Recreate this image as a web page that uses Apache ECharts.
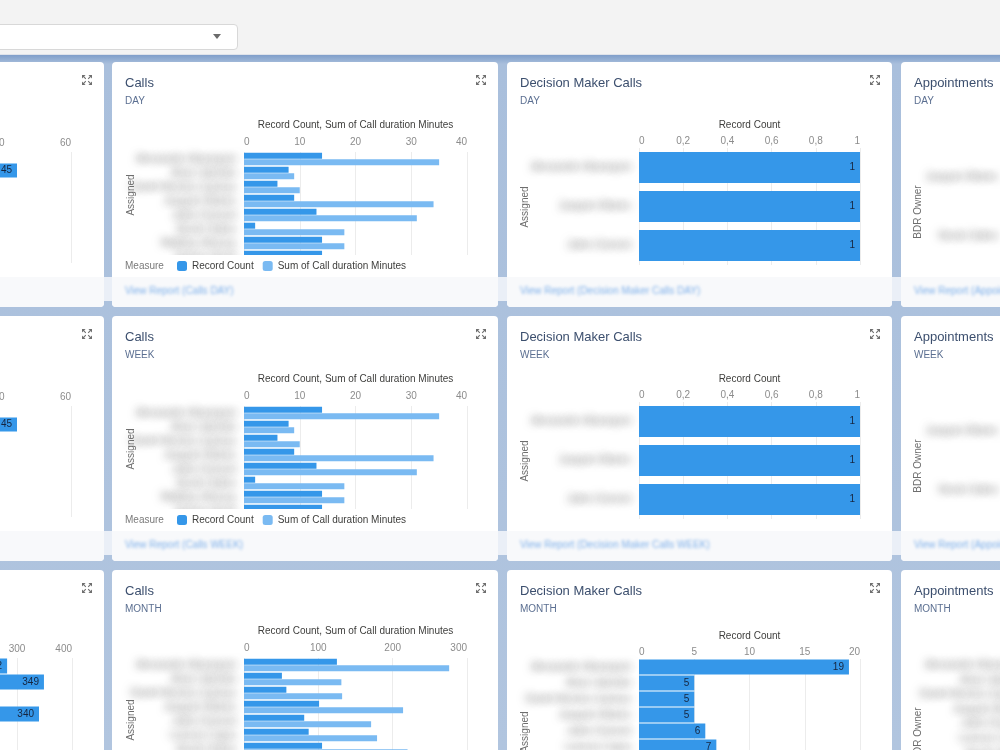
<!DOCTYPE html>
<html>
<head>
<meta charset="utf-8">
<script src="https://cdn.jsdelivr.net/npm/echarts@6/dist/echarts.min.js"></script>
<style>
  html, body { margin: 0; padding: 0; width: 1000px; height: 750px; overflow: hidden; }
  body { font-family: 'Liberation Sans', Arial, sans-serif; }
  #page {
    position: relative; width: 1000px; height: 750px; overflow: hidden;
    background: linear-gradient(#7b9bc8 54px, #a9bfdc 64px, #b1c5df 750px);
  }
  #topbar { position: absolute; left: 0; top: 0; width: 1000px; height: 54px; background: #f3f3f3; border-bottom: 1px solid #dfe3ea; }
  #select { position: absolute; left: -10px; top: 24px; width: 246px; height: 24px; background: #fff; border: 1px solid #d8d8d8; border-radius: 4px; }
  #caret { position: absolute; left: 213px; top: 34px; width: 0; height: 0; border-left: 4.5px solid transparent; border-right: 4.5px solid transparent; border-top: 5px solid #6b6b6b; }
  .strip { position: absolute; left: 0; width: 1000px; height: 24px; background: rgba(244, 247, 251, 0.85); }
  .card { position: absolute; height: 245px; background: #fff; border-radius: 4px; overflow: hidden; }
  .card.tall { height: 300px; }
  .foot { position: absolute; left: 0; top: 215px; width: 100%; height: 30px; background: #f8f9fb; }
  .link { position: absolute; left: 13px; top: 8px; font-size: 10px; color: #7eb0ea; filter: blur(1.8px); white-space: nowrap; }
  .chart { position: absolute; left: 0; top: 0; }
  .title { position: absolute; left: 13px; top: 13px; font-size: 13px; color: #3c4f6e; white-space: nowrap; }
  .sub { position: absolute; left: 13px; top: 33px; font-size: 10px; color: #5b6f91; }
  .expand { position: absolute; right: 12px; top: 13px; width: 10px; height: 10px; }
</style>
</head>
<body>
<div id="page">
  <div id="topbar"><div id="select"></div><div id="caret"></div></div>
</div>
<script>
// ---- data ----
const callsDayNames = ['Alessandro Marangoni', 'Mose Valentini', 'Daniel Moreira Cardoso', 'Joaquim Ribeiro', 'Julien Dumont', 'Nicole Dalton', 'Matthieu Moreau', 'Stefano Monti'];
const callsDayCount = [14, 8, 6, 9, 13, 2, 14, 14];
const callsDayMinutes = [35, 9, 10, 34, 31, 18, 18, 12];
const callsWeekCount = [14, 8, 6, 9, 13, 2, 14, 14];
const callsWeekMinutes = [35, 9, 10, 34, 31, 18, 18, 12];
const callsMonthNames = ['Alessandro Marangoni', 'Mose Valentini', 'Daniel Moreira Cardoso', 'Joaquim Ribeiro', 'Julien Dumont', 'Lorenzo Capra', 'Nicole Dalton'];
const callsMonthCount = [125, 51, 57, 101, 81, 87, 105];
const callsMonthMinutes = [276, 131, 132, 214, 171, 179, 220];

const dmDayNames = ['Alessandro Marangoni', 'Joaquim Ribeiro', 'Julien Dumont'];
const dmDayCount = [1, 1, 1];
const dmWeekCount = [1, 1, 1];
const dmMonthNames = ['Alessandro Marangoni', 'Mose Valentini', 'Daniel Moreira Cardoso', 'Joaquim Ribeiro', 'Julien Dumont', 'Lorenzo Capra'];
const dmMonthCount = [19, 5, 5, 5, 6, 7];

const apptDayNames = ['Joaquim Ribeiro', 'Nicole Dalton'];
const apptDayCount = [1, 1];
const apptWeekCount = [1, 1];
const apptMonthNames = ['Alessandro Marangoni', 'Mose Valentini', 'Daniel Moreira Cardoso', 'Joaquim Ribeiro', 'Julien Dumont', 'Lorenzo Capra', 'Nicole Dalton', 'Stefano Monti'];
const apptMonthCount = [6, 3, 4, 5, 2, 3, 4, 2];

const talkDayNames = ['Alessandro Marangoni', 'Joaquim Ribeiro', 'Julien Dumont'];
const talkDayMinutes = [45, 31, 24];
const talkWeekMinutes = [45, 31, 24];
const talkMonthNames = ['Alessandro Marangoni', 'Mose Valentini', 'Daniel Moreira Cardoso', 'Joaquim Ribeiro', 'Julien Dumont', 'Lorenzo Capra', 'Nicole Dalton'];
const talkMonthMinutes = [282, 349, 250, 340, 210, 190, 160];

const DARK = '#3597e9';
const LIGHT = '#7abaf2';
const FONT = "'Liberation Sans', Arial, sans-serif";

const expandSvg = '<svg class="expand" viewBox="0 0 10 10"><g fill="#6f6f6f" stroke="#6f6f6f" stroke-width="1.1">' +
  '<path d="M0 0h3.6L0 3.6z M10 0v3.6L6.4 0z M0 10v-3.6L3.6 10z M10 10h-3.6L10 6.4z" stroke="none"/>' +
  '<path d="M1.2 1.2l2.6 2.6 M8.8 1.2l-2.6 2.6 M1.2 8.8l2.6-2.6 M8.8 8.8l-2.6-2.6" fill="none"/></g></svg>';

function buildOption(p) {
  const graphic = [{
    type: 'text', x: p.yNameAt[0], y: p.yNameAt[1], rotation: Math.PI / 2, z: 110,
    style: { text: p.yName, fill: '#6e6e6e', font: '10px ' + FONT, align: 'center', verticalAlign: 'middle' }
  }];
  if (p.legend) {
    graphic.push({ type: 'rect', z: 100, shape: { x: 0, y: p.clipY, width: 400, height: 215 - p.clipY }, style: { fill: '#fff' } });
    graphic.push({ type: 'text', x: 13, y: 204, z: 110, style: { text: 'Measure', fill: '#7a7a7a', font: '10px ' + FONT, verticalAlign: 'middle' } });
  }
  return {
    animation: false,
    textStyle: { fontFamily: FONT },
    grid: { left: p.left, top: p.top, width: p.width, height: p.names.length * p.rowH, containLabel: false, outerBoundsMode: 'none' },
    xAxis: {
      type: 'value', position: 'top', min: 0, max: p.max, interval: p.interval,
      name: p.axisName, nameLocation: 'middle', nameGap: p.nameGap,
      nameTextStyle: { fontSize: 10, color: '#3e3e3c', fontFamily: FONT },
      axisLabel: { fontSize: 10, color: '#8c8c8c', margin: p.labelMargin, fontFamily: FONT, formatter: p.fmt, alignMinLabel: 'left', alignMaxLabel: 'right' },
      axisLine: { show: false }, axisTick: { show: false },
      splitLine: { lineStyle: { color: '#ececec' } }
    },
    yAxis: {
      type: 'category', data: p.names, inverse: true,
      axisLine: { show: false }, axisTick: { show: false }, splitLine: { show: false },
      axisLabel: {
        margin: 1008, fontSize: 10, fontFamily: FONT, color: '#9a9a9a',
        textShadowColor: 'rgba(95,95,95,0.9)', textShadowBlur: 8, textShadowOffsetX: 1000
      }
    },
    legend: p.legend ? {
      left: 60, top: 194, itemWidth: 10, itemHeight: 10, itemGap: 9, icon: 'roundRect', z: 110,
      textStyle: { fontSize: 10, color: '#3e3e3c', fontFamily: FONT }
    } : { show: false },
    series: p.series.map(s => ({
      type: 'bar', name: s.name, data: s.data, barWidth: p.barWidth, barGap: p.barGap || '10%',
      itemStyle: { color: s.color },
      label: p.labels ? { show: true, position: 'insideRight', distance: 5, color: '#16253f', fontSize: 10, fontFamily: FONT } : { show: false }
    })),
    graphic: graphic
  };
}

const page = document.getElementById('page');
const rowTops = [62, 316, 570];
const colLefts = [-282, 112, 507, 901];
const periods = ['DAY', 'WEEK', 'MONTH'];

rowTops.forEach(t => {
  const s = document.createElement('div');
  s.className = 'strip';
  s.style.top = (t + 215) + 'px';
  page.appendChild(s);
});

function addCard(col, row, title, option) {
  const w = col === 2 ? 385 : 386;
  const h = row === 2 ? 300 : 245;
  const card = document.createElement('div');
  card.className = 'card' + (row === 2 ? ' tall' : '');
  card.style.left = colLefts[col] + 'px';
  card.style.top = rowTops[row] + 'px';
  card.style.width = w + 'px';
  card.innerHTML =
    (row === 2 ? '' : '<div class="foot"><span class="link">View Report (' + title + ' ' + periods[row] + ')</span></div>') +
    '<div class="chart" style="width:' + w + 'px;height:' + h + 'px"></div>' +
    '<div class="title">' + title + '</div><div class="sub">' + periods[row] + '</div>' + expandSvg;
  page.appendChild(card);
  const chart = echarts.init(card.querySelector('.chart'), null, { renderer: 'canvas' });
  chart.setOption(option);
}

const commaFmt = v => String(Math.round(v * 10) / 10).replace('.', ',');

// ---- column A (mostly off-screen) ----
function talkOption(names, data, max, interval, top, rowH, barWidth, left, width) {
  return buildOption({
    names, max, interval, left, width, top, rowH, barWidth,
    axisName: 'Talk Time', nameGap: 22, labelMargin: 4,
    yName: 'Assigned', yNameAt: [19, top + names.length * rowH / 2],
    labels: true, series: [{ name: 'Talk Time', data, color: DARK }]
  });
}
addCard(0, 0, 'Connected Calls', talkOption(talkDayNames, talkDayMinutes, 60, 20, 90, 37, 14, 137, 216));
addCard(0, 1, 'Connected Calls', talkOption(talkDayNames, talkWeekMinutes, 60, 20, 90, 37, 14, 137, 216));
addCard(0, 2, 'Connected Calls', talkOption(talkMonthNames, talkMonthMinutes, 400, 100, 88, 16, 15, 134, 220));

// ---- column B: Calls ----
function callsOption(names, count, minutes, max, interval, top, legend, yNameY) {
  return buildOption({
    names, max, interval, left: 132, width: 223, top, rowH: 14, barWidth: 6, barGap: '10%',
    axisName: 'Record Count, Sum of Call duration Minutes', nameGap: 22, labelMargin: 5,
    yName: 'Assigned', yNameAt: [19, yNameY], legend, clipY: 193,
    series: [
      { name: 'Record Count', data: count, color: DARK },
      { name: 'Sum of Call duration Minutes', data: minutes, color: LIGHT }
    ]
  });
}
addCard(1, 0, 'Calls', callsOption(callsDayNames, callsDayCount, callsDayMinutes, 40, 10, 90, true, 133));
addCard(1, 1, 'Calls', callsOption(callsDayNames, callsWeekCount, callsWeekMinutes, 40, 10, 90, true, 133));
addCard(1, 2, 'Calls', callsOption(callsMonthNames, callsMonthCount, callsMonthMinutes, 300, 100, 88, false, 150));

// ---- column C: Decision Maker Calls ----
function dmOption(names, data, max, interval, top, rowH, barWidth, fmt, yNameY) {
  return buildOption({
    names, max, interval, left: 132, width: 221, top, rowH, barWidth, fmt,
    axisName: 'Record Count', nameGap: 18, labelMargin: 2,
    yName: 'Assigned', yNameAt: [18, yNameY], labels: true,
    series: [{ name: 'Record Count', data, color: DARK }]
  });
}
addCard(2, 0, 'Decision Maker Calls', dmOption(dmDayNames, dmDayCount, 1, 0.2, 86, 39, 31, commaFmt, 145));
addCard(2, 1, 'Decision Maker Calls', dmOption(dmDayNames, dmWeekCount, 1, 0.2, 86, 39, 31, commaFmt, 145));
addCard(2, 2, 'Decision Maker Calls', dmOption(dmMonthNames, dmMonthCount, 20, 5, 89, 16, 15, undefined, 162));

// ---- column D: Appointments (mostly off-screen) ----
function apptOption(names, data, left, top, rowH, barWidth, yNameY) {
  return buildOption({
    names, max: 1, interval: 0.2, left, width: 221, top, rowH, barWidth, fmt: commaFmt,
    axisName: 'Record Count', nameGap: 18, labelMargin: 2,
    yName: 'BDR Owner', yNameAt: [17, yNameY], labels: true,
    series: [{ name: 'Record Count', data, color: DARK }]
  });
}
addCard(3, 0, 'Appointments', apptOption(apptDayNames, apptDayCount, 105, 86, 58.5, 31, 150));
addCard(3, 1, 'Appointments', apptOption(apptDayNames, apptWeekCount, 105, 86, 58.5, 31, 150));
const apptMonth = apptOption(apptMonthNames, apptMonthCount, 132, 88, 14.6, 12, 164);
apptMonth.xAxis.max = 10; apptMonth.xAxis.interval = 2; apptMonth.xAxis.axisLabel.formatter = undefined;
addCard(3, 2, 'Appointments', apptMonth);
</script>
</body>
</html>
